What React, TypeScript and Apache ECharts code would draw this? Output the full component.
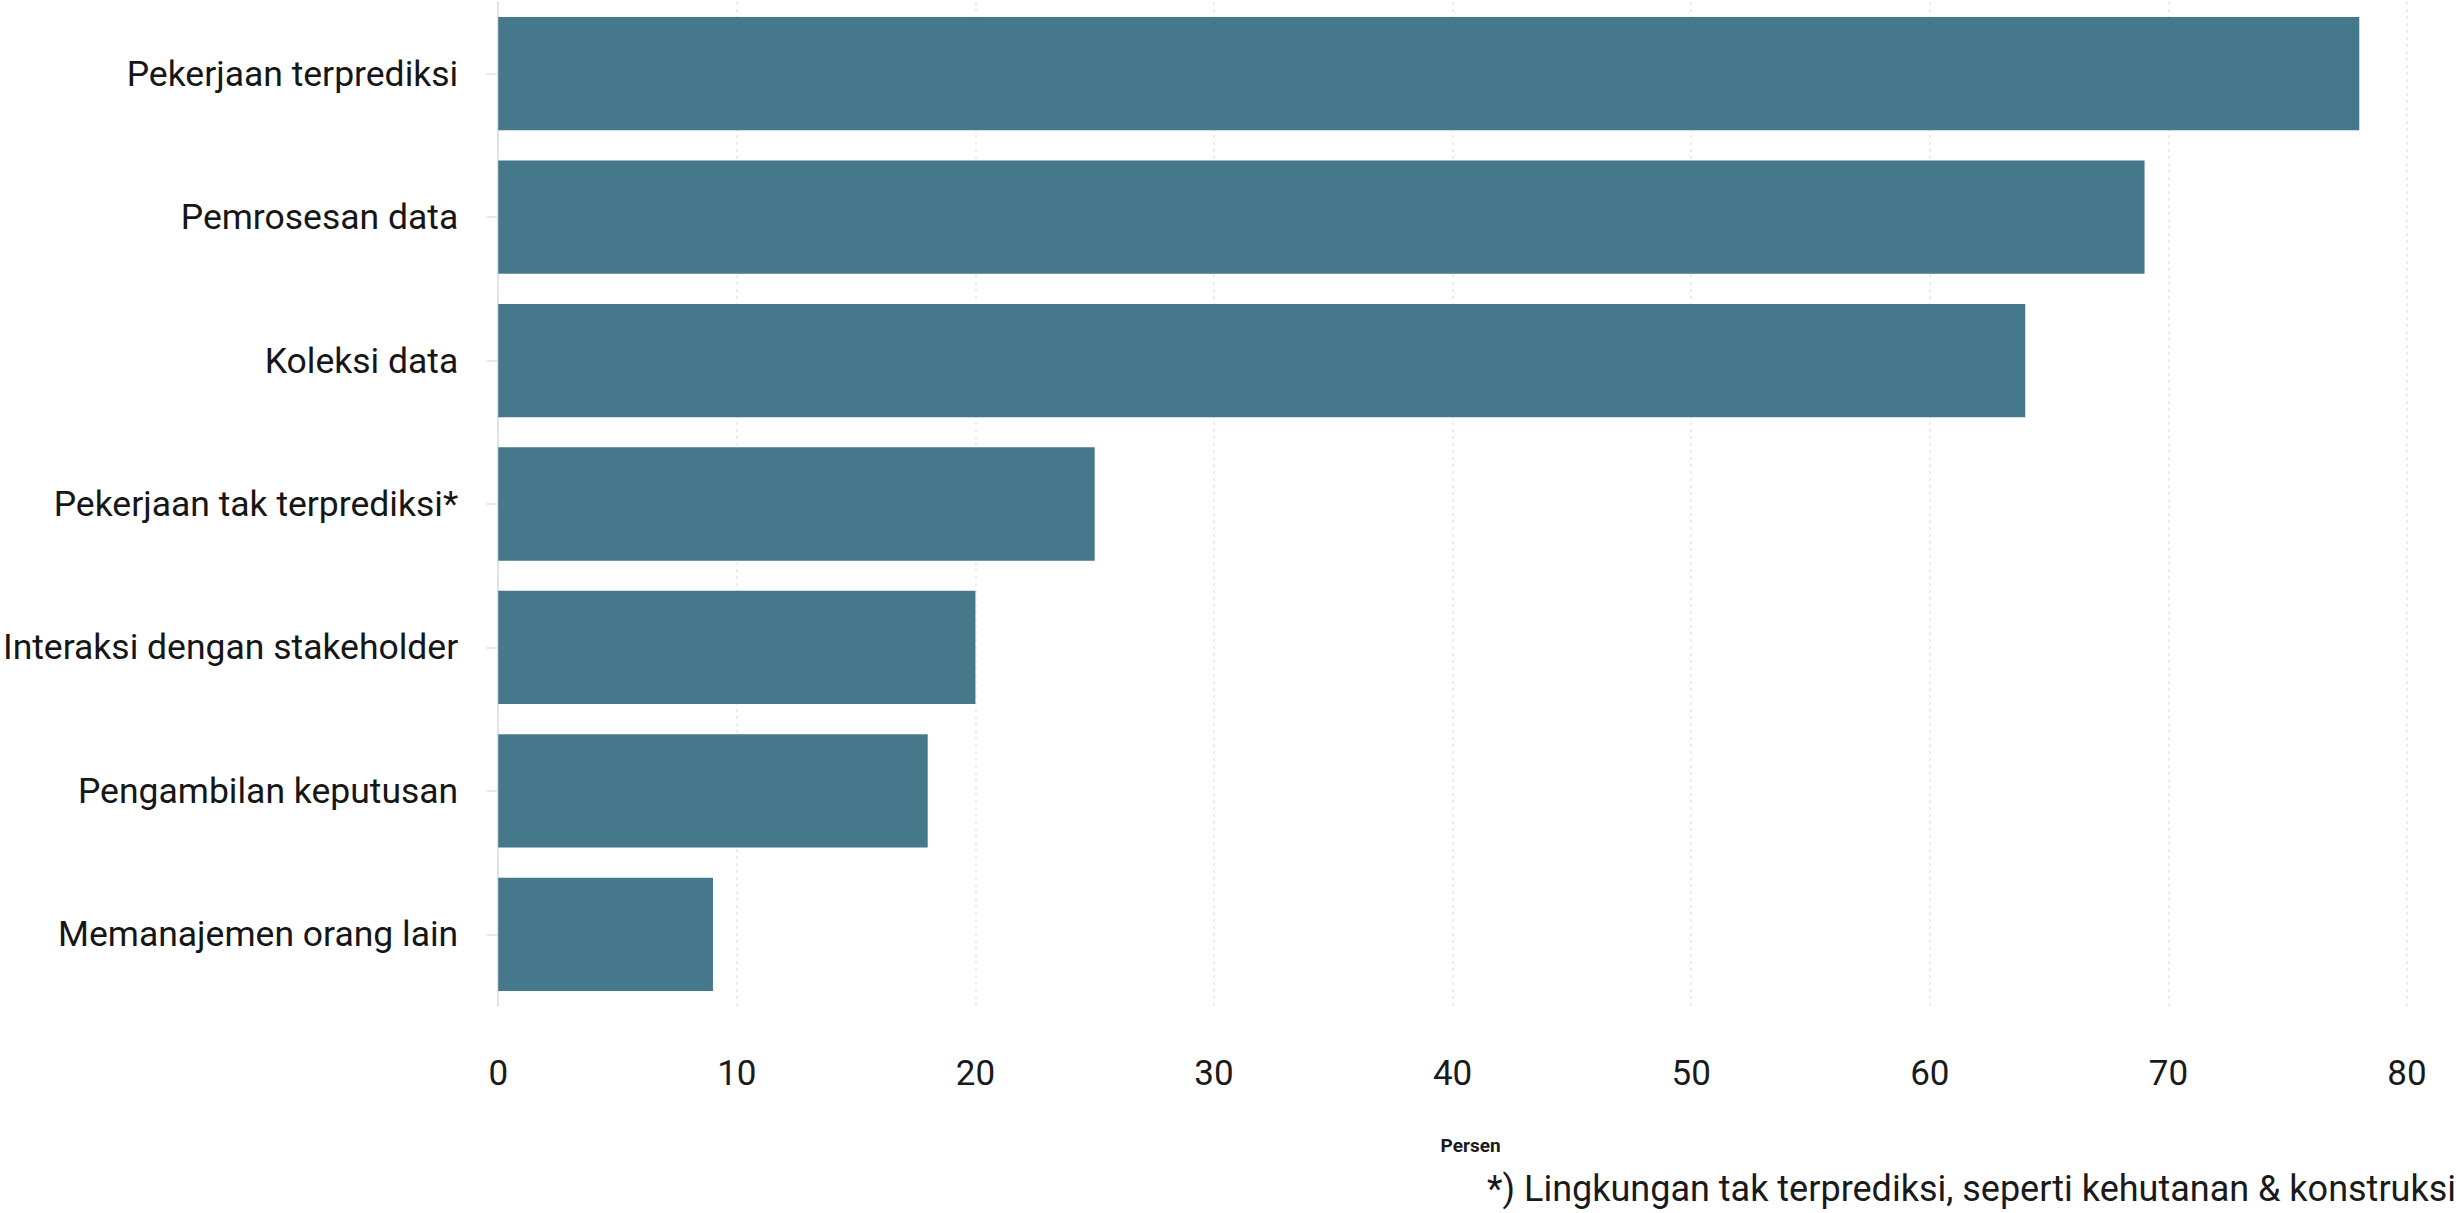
import React, { useEffect, useRef } from "react";
import * as echarts from "echarts";

const categories = [
  "Pekerjaan terprediksi",
  "Pemrosesan data",
  "Koleksi data",
  "Pekerjaan tak terprediksi*",
  "Interaksi dengan stakeholder",
  "Pengambilan keputusan",
  "Memanajemen orang lain",
];
const values = [78, 69, 64, 25, 20, 18, 9];
const xTicks = [0, 10, 20, 30, 40, 50, 60, 70, 80];
const axisTitle = "Persen";
const footnote = "*) Lingkungan tak terprediksi, seperti kehutanan & konstruksi";

export default function App() {
  const ref = useRef<HTMLDivElement>(null);
  useEffect(() => {
    if (!ref.current) return;
    const chart = echarts.init(ref.current, null, { renderer: "svg" });
    chart.setOption({
      animation: false,
      backgroundColor: "#ffffff",
      textStyle: { fontFamily: "Roboto" },
      grid: { left: 498, right: 49, top: 2, bottom: 207, containLabel: false },
      xAxis: {
        type: "value",
        min: xTicks[0],
        max: xTicks[xTicks.length - 1],
        interval: 10,
        axisLine: { show: false },
        axisTick: { show: false },
        axisLabel: { fontSize: 35, color: "#1a1a1a", margin: 50, fontFamily: "Roboto" },
        splitLine: { show: true, lineStyle: { color: "#e6e6e6", type: [3, 4], width: 1.5 } },
        name: axisTitle,
        nameLocation: "middle",
        nameGap: 130,
        nameTextStyle: { fontSize: 19, fontWeight: "bold", color: "#1a1a1a", padding: [0, 0, 0, 36], fontFamily: "Roboto" },
      },
      yAxis: {
        type: "category",
        data: categories,
        inverse: true,
        axisLine: { show: true, lineStyle: { color: "#dcdcdc", width: 1.5 } },
        axisTick: { show: true, alignWithLabel: true, length: 12, lineStyle: { color: "#e3e3e3", width: 1.5 } },
        axisLabel: { fontSize: 35.5, color: "#161616", margin: 40, fontFamily: "Roboto" },
        splitLine: { show: false },
      },
      series: [
        {
          type: "bar",
          data: values,
          barCategoryGap: "21%",
          itemStyle: { color: "#44788a" },
        },
      ],
      graphic: [
        {
          type: "text",
          right: 0,
          top: 1171,
          style: { text: footnote, fontSize: 36, fill: "#1a1a1a", fontFamily: "Roboto" },
        },
      ],
    });
    return () => chart.dispose();
  }, []);
  return (
    <div
      ref={ref}
      style={{ position: "fixed", left: 0, top: 0, width: 2456, height: 1213 }}
    />
  );
}
